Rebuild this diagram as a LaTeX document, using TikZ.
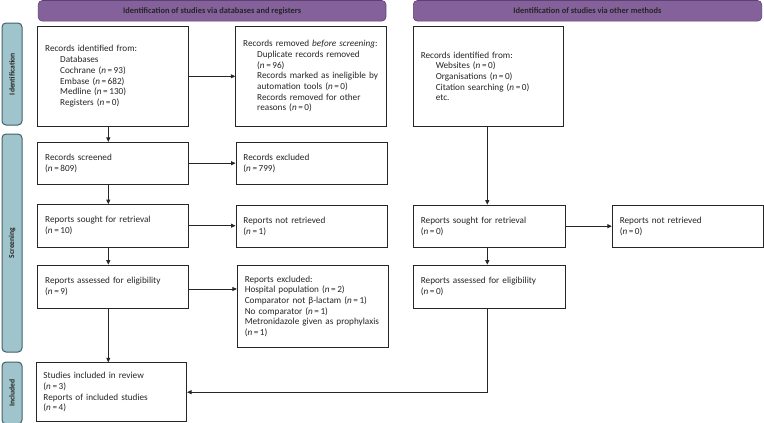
\documentclass[tikz,border=0pt]{standalone}
\usepackage{fontspec}
\setmainfont{Carlito}
\usetikzlibrary{arrows.meta,calc}
\definecolor{hdrfill}{HTML}{84619A}
\definecolor{hdrdraw}{HTML}{5E3F74}
\definecolor{sidefill}{HTML}{A0C4CC}
\definecolor{sidedraw}{HTML}{41606A}
\newcommand{\nn}[1]{(\textit{n}\,=\,#1)}
\begin{document}
\begin{tikzpicture}[x=1pt,y=-1pt,
  box/.style={draw=black!85,line width=0.8pt,fill=white,inner xsep=7.5pt,inner ysep=2pt,
    align=left,font=\fontsize{9.2}{10.7}\selectfont,text=black!85,anchor=center},
  hdr/.style={draw=hdrdraw,fill=hdrfill,rounded corners=4pt,line width=0.6pt,
    font=\fontsize{8.4}{9}\selectfont\bfseries,text=black!85,inner sep=0pt},
  side/.style={draw=sidedraw,fill=sidefill,rounded corners=4pt,line width=1pt,inner sep=0pt},
  sidetxt/.style={rotate=90,font=\fontsize{7.6}{8}\selectfont\bfseries,text=black!85},
  arr/.style={draw=black!85,line width=0.8pt,-{Triangle[length=4.5pt,width=4pt]}},
  ln/.style={draw=black!85,line width=0.8pt}]
\useasboundingbox (0,0) rectangle (764,423);
% headers
\node[hdr,minimum width=347.7pt,minimum height=20.5pt] (h1) at (212.1,10.8) {Identification of studies via databases and registers};
\node[hdr,minimum width=348.4pt,minimum height=20.5pt] (h2) at (587.5,10.8) {Identification of studies via other methods};
% side labels
\node[side,minimum width=20pt,minimum height=102pt] (s1) at (12,74) {};
\node[sidetxt] (t1) at (s1.center) {Identification};
\node[side,minimum width=20pt,minimum height=218pt] (s2) at (12,243) {};
\node[sidetxt] (t2) at (s2.center) {Screening};
\node[side,minimum width=20pt,minimum height=62pt] (s3) at (12,393) {};
\node[sidetxt] (t3) at (s3.center) {Included};
% boxes
\node[box,text width=135.6pt,minimum height=99.3pt] (A) at (113,76.3) {Records identified from:\\
\hspace*{15pt}Databases\\
\hspace*{15pt}Cochrane \nn{93}\\
\hspace*{15pt}Embase \nn{682}\\
\hspace*{15pt}Medline \nn{130}\\
\hspace*{15pt}Registers \nn{0}};
\node[box,text width=136pt,minimum height=99.3pt] (B) at (311.2,76.3) {Records removed \textit{before screening}:\\
\hspace*{14pt}Duplicate records removed\\
\hspace*{14pt}\nn{96}\\
\hspace*{14pt}Records marked as ineligible by\\
\hspace*{14pt}automation tools \nn{0}\\
\hspace*{14pt}Records removed for other\\
\hspace*{14pt}reasons \nn{0}};
\node[box,text width=135pt,minimum height=99.3pt] (C) at (488.3,76.3) {Records identified from:\\
\hspace*{15pt}Websites \nn{0}\\
\hspace*{15pt}Organisations \nn{0}\\
\hspace*{15pt}Citation searching \nn{0}\\
\hspace*{15pt}etc.};
\node[box,text width=135.6pt,minimum height=41.7pt] (D) at (113,163.2) {Records screened\\\nn{809}};
\node[box,text width=136.7pt,minimum height=41.7pt] (E) at (311.8,163.2) {Records excluded\\\nn{799}};
\node[box,text width=135.6pt,minimum height=42.4pt] (F) at (113,225.7) {Reports sought for retrieval\\\nn{10}};
\node[box,text width=136.7pt,minimum height=42.4pt] (G) at (311.8,226.2) {Reports not retrieved\\\nn{1}};
\node[box,text width=136.7pt,minimum height=42.4pt] (H) at (489.2,226.2) {Reports sought for retrieval\\\nn{0}};
\node[box,text width=136pt,minimum height=42.4pt] (I) at (687.8,226.2) {Reports not retrieved\\\nn{0}};
\node[box,text width=135.6pt,minimum height=43.3pt] (J) at (113,286.7) {Reports assessed for eligibility\\\nn{9}};
\node[box,text width=136pt,minimum height=82.7pt] (K) at (312.8,306.3) {Reports excluded:\\
Hospital population \nn{2}\\
Comparator not β-lactam \nn{1}\\
No comparator \nn{1}\\
Metronidazole given as prophylaxis\\
\nn{1}};
\node[box,text width=136.7pt,minimum height=43.3pt] (L) at (489.2,286.7) {Reports assessed for eligibility\\\nn{0}};
\node[box,text width=135.7pt,minimum height=59pt] (M) at (111.3,392.2) {Studies included in review\\
\nn{3}\\
Reports of included studies\\
\nn{4}};
% connector anchors
\coordinate (pa) at ($(A.south)+(-4.7,0)$);
\coordinate (pd) at ($(D.south)+(-4.7,0)$);
\coordinate (pf) at ($(F.south)+(-4.7,0)$);
\coordinate (pj) at ($(J.south)+(-4.7,0)$);
\coordinate (pje) at ($(J.east)+(0,2.3)$);
\coordinate (pc) at ($(C.south)+(-1,0)$);
\coordinate (ph) at ($(H.south)+(-1.9,0)$);
\coordinate (pl) at ($(L.south)+(-1.9,0)$);
% connectors
\draw[arr] (pa) -- (pa |- D.north);
\draw[arr] (A.east) -- (A.east -| B.west);
\draw[arr] (pd) -- (pd |- F.north);
\draw[arr] (D.east) -- (D.east -| E.west);
\draw[arr] (pf) -- (pf |- J.north);
\draw[arr] (F.east) -- (F.east -| G.west);
\draw[arr] (pj) -- (pj |- M.north);
\draw[arr] (pje) -- (pje -| K.west);
\draw[arr] (pc) -- (pc |- H.north);
\draw[arr] (H.east) -- (H.east -| I.west);
\draw[arr] (ph) -- (ph |- L.north);
\draw[arr] (pl) |- (M.east);
\end{tikzpicture}
\end{document}
